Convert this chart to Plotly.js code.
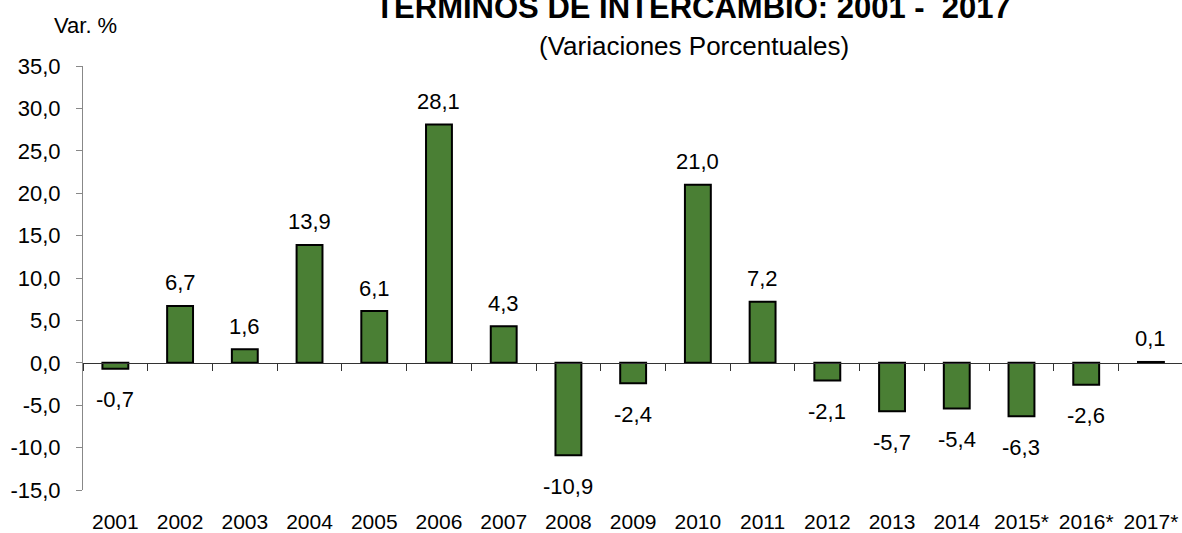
<!DOCTYPE html>
<html>
<head>
<meta charset="utf-8">
<script src="https://cdn.plot.ly/plotly-3.0.1.min.js"></script>
<style>html,body{margin:0;padding:0;background:#fff;}#chart{width:1182px;height:533px;}</style>
</head>
<body>
<div id="chart"></div>
<script>
const categories = ['2001','2002','2003','2004','2005','2006','2007','2008','2009','2010','2011','2012','2013','2014','2015*','2016*','2017*'];
const values = [-0.7, 6.7, 1.6, 13.9, 6.1, 28.1, 4.3, -10.9, -2.4, 21.0, 7.2, -2.1, -5.7, -5.4, -6.3, -2.6, 0.1];
const yTicks = [-15, -10, -5, 0, 5, 10, 15, 20, 25, 30, 35];

const FONT = '"Liberation Sans", Arial, sans-serif';
const fmt = v => v.toFixed(1).replace('.', ',');

const trace = {
  type: 'bar',
  x: categories,
  y: values,
  width: 0.4,
  marker: {color: '#4a7f34', line: {color: '#000', width: 2}},
  hoverinfo: 'skip'
};

const labelAnns = categories.map((c, i) => ({
  x: i, y: values[i], xref: 'x', yref: 'y',
  text: fmt(values[i]), showarrow: false,
  yanchor: 'middle', xanchor: 'center',
  yshift: values[i] >= 0 ? 23 : -31,
  font: {family: FONT, size: 22, color: '#000'}
}));

const layout = {
  width: 1182, height: 533,
  margin: {l: 83, r: 0, t: 66, b: 43, pad: 0},
  paper_bgcolor: '#fff', plot_bgcolor: '#fff',
  separators: ',.',
  showlegend: false,
  font: {family: FONT, size: 22, color: '#000'},
  title: {
    text: '<b>TÉRMINOS DE INTERCAMBIO: 2001 -\u00a0 2017</b>',
    font: {family: FONT, size: 31, color: '#000'},
    x: 693/1182, xanchor: 'center', xref: 'container',
    y: 1 - 7/533, yanchor: 'middle', yref: 'container'
  },
  xaxis: {
    type: 'category', range: [-0.5, 16.48],
    anchor: 'free', position: 0.3,
    showline: true, linecolor: '#333', linewidth: 1,
    ticks: 'outside', tickson: 'boundaries', ticklen: 7, tickcolor: '#333', tickwidth: 1,
    tickangle: 0, automargin: false,
    ticklabelstandoff: 140,
    showgrid: false, zeroline: false,
    tickfont: {family: FONT, size: 21, color: '#000'}
  },
  yaxis: {
    range: [-15, 35], tickmode: 'array', tickvals: yTicks, ticktext: yTicks.map(fmt),
    showline: true, linecolor: '#888', linewidth: 1,
    ticks: 'outside', ticklen: 6, tickcolor: '#888',
    ticklabelstandoff: 11, automargin: false,
    showgrid: false, zeroline: false,
    tickfont: {family: FONT, size: 22, color: '#000'}
  },
  annotations: labelAnns.concat([
    {xref: 'paper', yref: 'paper', x: (694-83)/1099, y: (490-46)/424, text: '(Variaciones Porcentuales)',
     showarrow: false, xanchor: 'center', yanchor: 'middle', font: {family: FONT, size: 26, color: '#000'}},
    {xref: 'paper', yref: 'paper', x: (85-83)/1099, y: (490-25)/424, text: 'Var. %',
     showarrow: false, xanchor: 'center', yanchor: 'middle', font: {family: FONT, size: 22, color: '#000'}}
  ])
};

Plotly.newPlot('chart', [trace], layout, {displayModeBar: false, responsive: false});
</script>
</body>
</html>
